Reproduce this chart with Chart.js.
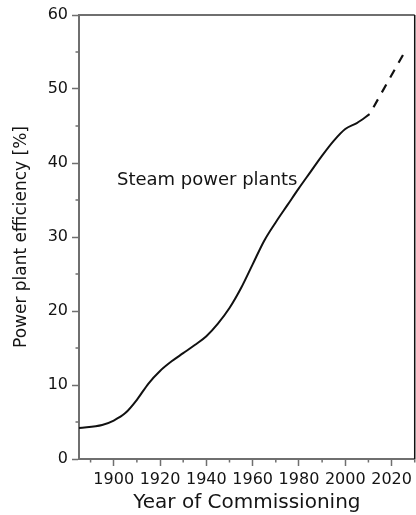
<!DOCTYPE html>
<html>
<head>
<meta charset="utf-8">
<script src="https://cdn.jsdelivr.net/npm/chart.js@4/dist/chart.umd.min.js"></script>
<style>
  html, body { margin: 0; padding: 0; background: #fff; }
  #wrap { width: 416px; height: 515px; position: relative; }
</style>
</head>
<body>
<div id="wrap"><canvas id="c"></canvas></div>
<script>
// Historical efficiency of steam power plants by year of commissioning
const years = [1885, 1895, 1900, 1905, 1910, 1915, 1920, 1925, 1930, 1935, 1940, 1945,
               1950, 1955, 1960, 1965, 1970, 1975, 1980, 1985, 1990, 1995, 2000, 2005, 2010.5];
const efficiency = [4.2, 4.6, 5.2, 6.2, 8.0, 10.2, 11.9, 13.2, 14.3, 15.4, 16.6, 18.3,
                    20.4, 23.1, 26.3, 29.5, 32.0, 34.3, 36.6, 38.8, 41.0, 43.0, 44.6, 45.4, 46.6];

// Projected trend
const projYears = [2010.5, 2026];
const projEfficiency = [46.6, 55.2];

// Axis ticks
const xMajorTicks = [1900, 1920, 1940, 1960, 1980, 2000, 2020];
const xMinorTicks = [1890, 1910, 1930, 1950, 1970, 1990, 2010, 2030];
const yMajorTicks = [0, 10, 20, 30, 40, 50, 60];
const yMinorTicks = [5, 15, 25, 35, 45, 55];

// Curve label
const curveLabel = 'Steam power plants';
const curveLabelAt = { x: 1901.4, y: 37.0 };

const FONT = 'DejaVu Sans';
const AXIS_GREY = '#6f6f6f';
const INK = '#141414';

const toPoints = (xs, ys) => xs.map((x, i) => ({ x, y: ys[i] }));

// Short minor ticks on both axes
const minorTicks = {
  id: 'minorTicks',
  afterDraw(chart) {
    const { ctx, scales: { x, y } } = chart;
    ctx.save();
    ctx.strokeStyle = AXIS_GREY;
    ctx.lineWidth = 1.5;
    ctx.beginPath();
    xMinorTicks.forEach(v => {
      const px = x.getPixelForValue(v);
      ctx.moveTo(px, y.bottom);
      ctx.lineTo(px, y.bottom + 3.5);
    });
    yMinorTicks.forEach(v => {
      const py = y.getPixelForValue(v);
      ctx.moveTo(x.left, py);
      ctx.lineTo(x.left - 3.5, py);
    });
    ctx.stroke();
    ctx.restore();
  }
};

// Top and right edges of the plot frame
const frame = {
  id: 'frame',
  afterDraw(chart) {
    const { ctx, chartArea: a } = chart;
    ctx.save();
    ctx.lineWidth = 2;
    ctx.strokeStyle = AXIS_GREY;
    ctx.beginPath();
    ctx.moveTo(a.left, a.top);
    ctx.lineTo(a.right, a.top);
    ctx.stroke();
    ctx.strokeStyle = '#111';
    ctx.lineWidth = 1.5;
    ctx.beginPath();
    ctx.moveTo(a.right, a.top);
    ctx.lineTo(a.right, a.bottom);
    ctx.stroke();
    ctx.restore();
  }
};

// Text label next to the curve
const curveText = {
  id: 'curveText',
  afterDatasetsDraw(chart) {
    const { ctx, scales: { x, y } } = chart;
    ctx.save();
    ctx.font = '18px "' + FONT + '"';
    ctx.fillStyle = INK;
    ctx.textAlign = 'left';
    ctx.textBaseline = 'alphabetic';
    ctx.fillText(curveLabel, x.getPixelForValue(curveLabelAt.x), y.getPixelForValue(curveLabelAt.y));
    ctx.restore();
  }
};

new Chart(document.getElementById('c'), {
  type: 'line',
  data: {
    datasets: [
      {
        data: toPoints(years, efficiency),
        borderColor: '#111',
        borderWidth: 2,
        pointRadius: 0,
        cubicInterpolationMode: 'monotone',
        fill: false
      },
      {
        data: toPoints(projYears, projEfficiency),
        borderColor: '#111',
        borderWidth: 2.2,
        borderDash: [9, 8],
        borderDashOffset: 9,
        pointRadius: 0,
        fill: false
      }
    ]
  },
  options: {
    responsive: true,
    maintainAspectRatio: false,
    animation: false,
    layout: { padding: { top: 15, right: 1, left: 0, bottom: 0 } },
    plugins: { legend: { display: false }, tooltip: { enabled: false } },
    scales: {
      x: {
        type: 'linear',
        min: 1885,
        max: 2030,
        afterBuildTicks: s => { s.ticks = xMajorTicks.map(v => ({ value: v })); },
        afterFit: s => { s.height = 56; },
        grid: { drawOnChartArea: false, drawTicks: true, tickLength: 7, tickColor: AXIS_GREY, tickWidth: 1.5 },
        border: { color: AXIS_GREY, width: 2 },
        ticks: {
          color: INK,
          font: { family: FONT, size: 16 },
          padding: 4,
          maxRotation: 0,
          autoSkip: false,
          callback: v => String(v)
        },
        title: {
          display: true,
          text: 'Year of Commissioning',
          color: INK,
          font: { family: FONT, size: 20 },
          padding: { top: 0, bottom: 0 }
        }
      },
      y: {
        min: 0,
        max: 60,
        afterBuildTicks: s => { s.ticks = yMajorTicks.map(v => ({ value: v })); },
        afterFit: s => { s.width = 79; },
        grid: { drawOnChartArea: false, drawTicks: true, tickLength: 7, tickColor: AXIS_GREY, tickWidth: 1.5 },
        border: { color: AXIS_GREY, width: 2 },
        ticks: {
          color: INK,
          font: { family: FONT, size: 16 },
          padding: 4,
          callback: v => String(v)
        },
        title: {
          display: true,
          text: 'Power plant efficiency [%]',
          color: INK,
          font: { family: FONT, size: 17 },
          padding: { top: 11, bottom: 0 }
        }
      }
    }
  },
  plugins: [minorTicks, frame, curveText]
});
</script>
</body>
</html>
